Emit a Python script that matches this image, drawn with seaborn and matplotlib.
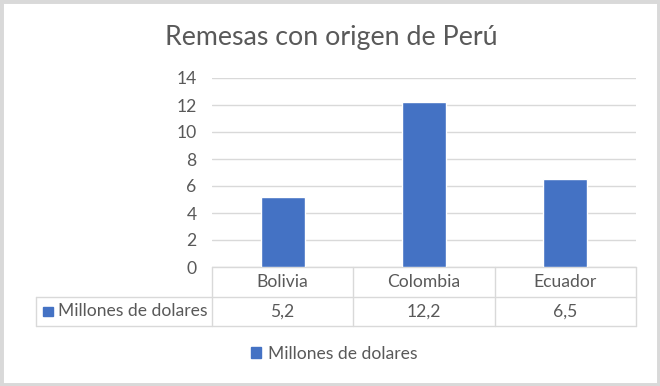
import seaborn as sns
import matplotlib.pyplot as plt
import pandas as pd
from matplotlib.patches import Rectangle, Patch

categories = ["Bolivia", "Colombia", "Ecuador"]
values = [5.2, 12.2, 6.5]
value_labels = ["5,2", "12,2", "6,5"]
series_name = "Millones de dolares"
title = "Remesas con origen de Perú"
yticks = [0, 2, 4, 6, 8, 10, 12, 14]

df = pd.DataFrame({"pais": categories, "valor": values})

sns.set_style("white")
plt.rcParams['font.family'] = ['Lato', 'DejaVu Sans']

blue = "#4472C4"
txt = "#595959"
grid = "#D9D9D9"
fs = 12.6

W, H = 660, 386
fig = plt.figure(figsize=(W / 100, H / 100), dpi=100)
# plot area in pixels: x 212..636, y 78..267
ax = fig.add_axes([212 / W, 1 - 267 / H, 424 / W, 189 / H])

sns.barplot(data=df, x="pais", y="valor", color=blue, width=0.31, ax=ax,
            saturation=1, zorder=3)
ax.set_xlim(-0.5, 2.5)
ax.set_ylim(0, 14)
ax.set_yticks(yticks)
ax.set_yticklabels([str(t) for t in yticks], color=txt, fontsize=fs)
ax.tick_params(axis="y", length=0, pad=11)
ax.set_xticks([])
ax.set_xlabel("")
ax.set_ylabel("")
for s in ax.spines.values():
    s.set_visible(False)
ax.yaxis.grid(True, color=grid, lw=1, zorder=0)

# data table below the axis
rh = 29.5 / 189
left = (36 - 212) / 424
lk = dict(color=grid, lw=1, clip_on=False, transform=ax.transAxes)
ax.plot([0, 1], [0, 0], **lk)
ax.plot([left, 1], [-rh, -rh], **lk)
ax.plot([left, 1], [-2 * rh, -2 * rh], **lk)
for i in range(4):
    ax.plot([i / 3, i / 3], [0, -2 * rh], **lk)
ax.plot([left, left], [-rh, -2 * rh], **lk)
for i, (c, v) in enumerate(zip(categories, value_labels)):
    ax.text((i + 0.5) / 3, -0.5 * rh, c, transform=ax.transAxes, ha="center",
            va="center", color=txt, fontsize=fs)
    ax.text((i + 0.5) / 3, -1.5 * rh, v, transform=ax.transAxes, ha="center",
            va="center", color=txt, fontsize=fs)
fig.patches.append(Rectangle((43 / W, 1 - 316 / H), 9.5 / W, 9.5 / H,
                             transform=fig.transFigure, color=blue))
fig.text(58 / W, 1 - 311 / H, series_name, ha="left", va="center",
         color=txt, fontsize=fs)

fig.text(331 / W, 1 - 38 / H, title, ha="center", va="center", color=txt,
         fontsize=19.3)

fig.legend(handles=[Patch(color=blue, label=series_name)], loc="center",
           bbox_to_anchor=(334 / W, 1 - 354 / H), frameon=False,
           handlelength=0.6, handleheight=0.6, handletextpad=0.35,
           labelcolor=txt, fontsize=fs)

fig.patches.append(Rectangle((0, 0), 1, 1, transform=fig.transFigure,
                             fill=False, ec=grid, lw=5))

fig.savefig("out.png", dpi=100, facecolor="white")
